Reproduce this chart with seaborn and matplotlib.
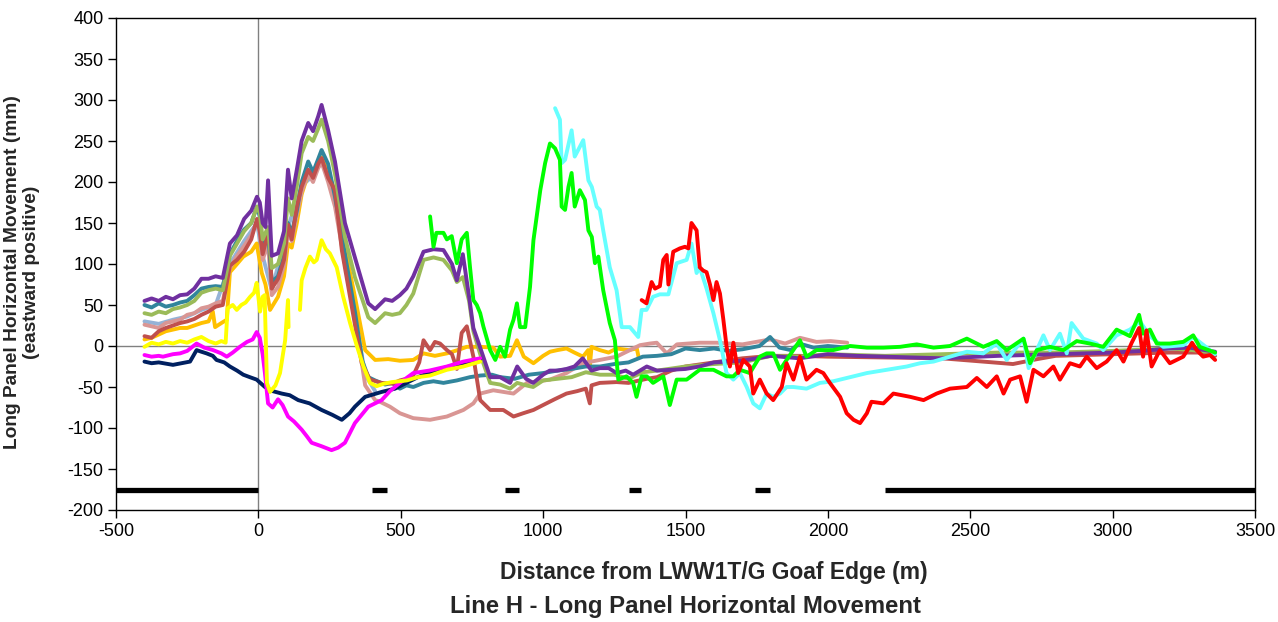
import matplotlib
matplotlib.use("Agg")
import matplotlib.pyplot as plt
import numpy as np
import pandas as pd
import seaborn as sns

# ---------------- data (distance m, movement mm) ----------------
light_blue_pts = [(-400, 30), (-350, 27), (-300, 32), (-250, 36), (-200, 44), (-150, 50), (-100, 100),
                  (-50, 128), (-5, 150), (15, 110), (47, 68), (104, 145), (152, 195), (192, 208),
                  (222, 226), (269, 180), (304, 108), (339, 38), (375, -35), (410, -55)]

orange_pts = [(-400, 8), (-375, 10), (-350, 14), (-325, 18), (-300, 20), (-275, 22), (-250, 22), (-225, 25),
              (-200, 28), (-175, 30), (-160, 42), (-152, 23), (-130, 28), (-111, 32), (-100, 90), (-75, 100),
              (-53, 109), (-25, 115), (-6, 125), (12, 89), (25, 75), (41, 44), (69, 60), (90, 85), (104, 125),
              (117, 120), (135, 150), (152, 185), (175, 210), (192, 205), (210, 220), (222, 230), (245, 212),
              (269, 188), (304, 120), (339, 60), (375, -5), (410, -17), (456, -16), (497, -18), (544, -17),
              (580, -9), (620, -12), (662, -9), (700, -5), (732, -1), (779, -1), (825, -2), (849, -13),
              (884, -12), (908, 7), (932, -13), (966, -21), (1000, -12), (1024, -7), (1050, -5), (1082, -3),
              (1110, -8), (1140, -13), (1158, -5), (1164, -25), (1170, -1), (1199, -5), (1230, -8),
              (1258, -3), (1300, -5), (1329, -3), (1335, -13)]

pink_pts = [(-400, 26), (-375, 24), (-350, 22), (-325, 28), (-300, 30), (-275, 32), (-250, 38), (-225, 40),
            (-200, 46), (-175, 48), (-150, 52), (-125, 55), (-100, 95), (-75, 110), (-50, 122), (-25, 135),
            (-5, 152), (5, 138), (15, 105), (34, 125), (47, 62), (69, 72), (90, 98), (104, 140), (117, 128),
            (135, 160), (152, 188), (175, 210), (192, 200), (210, 217), (222, 224), (245, 200), (269, 170),
            (304, 100), (339, 35), (375, -48), (410, -66), (427, -68), (462, -74), (497, -82), (544, -88),
            (603, -90), (662, -86), (720, -78), (755, -70), (779, -58), (825, -54), (896, -58), (943, -45),
            (1024, -41), (1082, -33), (1139, -21), (1199, -17), (1258, -13), (1340, 1), (1375, 3), (1399, 4),
            (1434, -9), (1470, 2), (1550, 4), (1610, 4), (1700, 2), (1797, 8), (1850, 3), (1902, 10),
            (1960, 5), (2010, 6), (2068, 4)]

teal_pts = [(-400, 50), (-375, 47), (-350, 52), (-325, 48), (-300, 50), (-275, 53), (-250, 55), (-225, 62),
            (-200, 70), (-175, 72), (-150, 73), (-125, 72), (-100, 112), (-75, 128), (-50, 142), (-25, 150),
            (-5, 170), (5, 158), (15, 118), (34, 140), (47, 78), (69, 85), (90, 110), (104, 150), (117, 138),
            (135, 165), (152, 200), (175, 225), (192, 212), (210, 228), (222, 239), (245, 222), (269, 182),
            (304, 112), (339, 42), (365, -18), (386, -38), (410, -42), (445, -47), (470, -45), (497, -52),
            (520, -48), (544, -50), (580, -45), (615, -43), (650, -45), (697, -42), (743, -38), (780, -36),
            (820, -35), (850, -38), (900, -40), (950, -35), (1000, -33), (1050, -30), (1100, -28),
            (1150, -25), (1200, -25), (1250, -22), (1300, -20), (1350, -13), (1400, -12), (1450, -10),
            (1500, -3), (1550, -5), (1600, -3), (1650, -6), (1700, -4), (1760, 0), (1797, 11), (1830, -2),
            (1870, -5), (1900, 3), (1950, -2), (2000, 0), (2068, -2)]

brown_pts = [(-400, 12), (-375, 10), (-350, 18), (-325, 22), (-300, 25), (-275, 28), (-250, 30), (-225, 33),
             (-200, 38), (-175, 42), (-150, 48), (-125, 50), (-100, 98), (-75, 105), (-50, 115), (-25, 130),
             (-5, 155), (5, 140), (15, 112), (34, 138), (41, 120), (47, 70), (69, 82), (90, 105), (104, 148),
             (117, 130), (135, 170), (152, 194), (175, 215), (192, 205), (210, 222), (222, 229), (245, 205),
             (269, 190), (293, 117), (328, 48), (363, -21), (392, -41), (433, -45), (470, -46), (497, -42),
             (520, -40), (544, -36), (565, -20), (580, 7), (603, -5), (620, 5), (638, 3), (662, -5),
             (680, -10), (697, -28), (714, 16), (732, 24), (755, -13), (779, -66), (814, -78), (860, -78),
             (896, -86), (930, -82), (966, -78), (1000, -72), (1040, -65), (1082, -58), (1120, -55),
             (1150, -52), (1164, -70), (1170, -48), (1199, -45), (1258, -44), (1300, -45), (1364, -40),
             (1400, -38), (1450, -30), (1500, -25), (1600, -20), (1700, -15), (1800, -12), (1900, -12),
             (2000, -13), (2200, -14), (2400, -15), (2580, -20), (2650, -22), (2735, -16), (2800, -12),
             (3000, -10), (3200, -8), (3300, -8), (3360, -12)]

olive_pts = [(-400, 40), (-375, 38), (-350, 42), (-325, 40), (-300, 45), (-275, 47), (-250, 50), (-225, 55),
             (-200, 65), (-175, 68), (-150, 70), (-125, 68), (-100, 110), (-75, 125), (-50, 140), (-25, 150),
             (-5, 170), (5, 162), (15, 130), (34, 145), (47, 95), (69, 100), (90, 125), (104, 180), (117, 160),
             (135, 195), (152, 235), (175, 255), (192, 250), (210, 265), (222, 276), (245, 250), (269, 210),
             (304, 133), (339, 84), (386, 35), (410, 28), (445, 40), (470, 38), (497, 40), (520, 50),
             (544, 64), (580, 105), (615, 108), (650, 105), (680, 92), (697, 78), (718, 84), (740, 55),
             (755, 18), (779, -10), (814, -45), (849, -47), (884, -52), (909, -45), (940, -48), (965, -50),
             (1000, -42), (1050, -40), (1100, -38), (1150, -32), (1200, -35), (1250, -35), (1300, -40),
             (1350, -32), (1400, -30), (1500, -25), (1600, -22), (1700, -20), (1800, -12), (1900, -13),
             (2000, -10), (2200, -12), (2400, -10), (2600, -8), (2800, -8), (3000, -6), (3200, -3),
             (3280, -5), (3360, -8)]

purple_pts = [(-400, 55), (-375, 58), (-350, 55), (-325, 60), (-300, 57), (-275, 62), (-250, 63), (-225, 70),
              (-200, 82), (-175, 82), (-150, 85), (-125, 83), (-100, 125), (-75, 135), (-50, 155), (-25, 165),
              (-5, 182), (5, 175), (15, 150), (25, 145), (34, 202), (47, 110), (69, 113), (90, 140),
              (104, 215), (117, 180), (135, 215), (152, 250), (175, 272), (192, 262), (210, 280), (222, 294),
              (245, 263), (269, 225), (304, 150), (339, 108), (386, 52), (410, 45), (445, 57), (470, 55),
              (497, 62), (520, 70), (544, 85), (580, 115), (615, 118), (650, 117), (680, 100), (697, 80),
              (718, 112), (740, 60), (755, 22), (779, -2), (814, -38), (849, -38), (884, -45), (909, -25),
              (940, -40), (965, -45), (1000, -35), (1023, -30), (1050, -30), (1082, -28), (1110, -25),
              (1139, -15), (1170, -30), (1199, -27), (1230, -27), (1258, -33), (1290, -30), (1316, -35),
              (1364, -25), (1400, -30), (1500, -28), (1550, -25), (1600, -20), (1700, -18), (1800, -12),
              (1900, -15), (2000, -10), (2100, -12), (2200, -13), (2400, -15), (2600, -12), (2800, -10),
              (3000, -8), (3100, -6), (3200, -3), (3270, -2), (3360, -7)]

navy_pts = [(-400, -19), (-375, -21), (-350, -20), (-300, -23), (-270, -21), (-240, -19), (-217, -5),
            (-200, -7), (-182, -9), (-160, -12), (-147, -17), (-120, -20), (-100, -25), (-75, -30), (-53, -35),
            (-30, -38), (-6, -41), (23, -50), (50, -55), (82, -58), (110, -60), (140, -66), (180, -70),
            (222, -78), (260, -84), (293, -90), (320, -82), (339, -74), (375, -62), (433, -56), (480, -52),
            (520, -45), (560, -38), (620, -30), (680, -24), (740, -20), (779, -16)]

magenta_pts = [(-400, -11), (-375, -13), (-350, -12), (-335, -13), (-300, -10), (-275, -9), (-250, -6),
               (-217, 3), (-190, -2), (-159, -5), (-130, -9), (-111, -13), (-90, -8), (-65, -1), (-40, 5),
               (-20, 8), (-6, 17), (5, 10), (15, -10), (23, -33), (34, -70), (50, -75), (69, -65), (85, -72),
               (104, -86), (125, -92), (152, -102), (170, -110), (187, -118), (220, -122), (257, -127),
               (280, -124), (304, -118), (339, -94), (386, -74), (433, -66), (462, -55), (497, -45),
               (544, -33), (600, -30), (662, -25), (720, -19), (779, -15)]

yellow_a_pts = [(-400, -1), (-375, 4), (-350, 2), (-325, 5), (-300, 3), (-275, 6), (-250, 4), (-225, 8),
                (-200, 11), (-175, 6), (-150, 3), (-130, 6), (-115, 4), (-108, 46), (-90, 50), (-76, 44),
                (-60, 50), (-45, 53), (-29, 60), (-15, 65), (-6, 77), (6, 42), (15, 60), (22, 62), (30, -45),
                (41, -56), (60, -48), (76, -33), (94, 7), (104, 56), (106, 23)]

yellow_b_pts = [(146, 44), (152, 80), (165, 95), (181, 109), (195, 102), (205, 105), (222, 129), (237, 118),
                (251, 113), (275, 96), (298, 60), (322, 28), (346, 0), (369, -25), (392, -45), (415, -49),
                (440, -46), (470, -44), (521, -42), (560, -38), (603, -36), (662, -29), (720, -25), (779, -19)]

cyan_pts = [(1042, 290), (1059, 276), (1065, 223), (1077, 227), (1100, 263), (1111, 231), (1141, 251),
            (1159, 202), (1171, 194), (1188, 170), (1199, 166), (1211, 141), (1234, 96), (1258, 68),
            (1276, 23), (1305, 23), (1334, 11), (1346, 44), (1363, 44), (1386, 60), (1410, 63), (1440, 63),
            (1445, 70), (1469, 101), (1504, 105), (1521, 125), (1539, 89), (1550, 96), (1574, 70),
            (1598, 40), (1621, 7), (1644, -33), (1668, -41), (1691, -33), (1715, -50), (1738, -70),
            (1761, -76), (1785, -58), (1808, -62), (1832, -58), (1855, -50), (1879, -50), (1925, -52),
            (1972, -45), (2019, -43), (2090, -37), (2137, -33), (2207, -29), (2277, -25), (2324, -21),
            (2371, -19), (2429, -13), (2488, -7), (2546, -9), (2593, 3), (2628, -17), (2687, 9), (2705, -27),
            (2757, 13), (2780, -5), (2815, 15), (2839, -9), (2856, 28), (2897, 9), (2944, 3), (2967, -5),
            (3014, 13), (3061, 20), (3096, 30), (3131, 12), (3178, -1), (3248, 1), (3283, 11), (3360, -10)]

green_pts = [(603, 158), (615, 121), (625, 138), (650, 138), (662, 130), (679, 134), (697, 101), (714, 130),
             (732, 138), (743, 97), (755, 56), (767, 50), (779, 40), (790, 24), (814, -5), (832, -17),
             (849, -1), (866, -13), (884, 20), (896, 32), (908, 52), (919, 23), (937, 23), (954, 72),
             (966, 129), (990, 190), (1007, 223), (1024, 247), (1042, 241), (1059, 227), (1065, 170),
             (1077, 166), (1089, 194), (1100, 211), (1111, 170), (1129, 190), (1147, 178), (1159, 141),
             (1171, 133), (1182, 101), (1194, 109), (1211, 68), (1234, 28), (1252, 7), (1264, -41),
             (1293, -37), (1316, -45), (1328, -62), (1346, -37), (1364, -37), (1386, -45), (1422, -37),
             (1445, -72), (1469, -41), (1504, -41), (1550, -29), (1598, -29), (1621, -33), (1644, -37),
             (1668, -37), (1691, -29), (1726, -33), (1761, -13), (1785, -9), (1808, -9), (1832, -29),
             (1855, -17), (1902, 7), (1925, -13), (1960, -5), (2019, -5), (2078, 0), (2137, -2), (2195, -2),
             (2254, -1), (2312, 2), (2371, -2), (2429, 0), (2488, 9), (2546, -1), (2593, 6), (2628, -5),
             (2687, 9), (2710, -21), (2734, -5), (2780, -1), (2827, -5), (2874, 6), (2920, 3), (2967, -1),
             (3014, 20), (3061, 12), (3093, 38), (3107, 15), (3131, 20), (3155, 3), (3201, 3), (3248, 5),
             (3283, 13), (3306, -1), (3360, -8)]

red_pts = [(1346, 56), (1363, 52), (1381, 78), (1393, 70), (1410, 73), (1422, 105), (1434, 111), (1440, 75),
           (1457, 115), (1480, 119), (1498, 121), (1510, 119), (1521, 150), (1539, 141), (1550, 96),
           (1562, 92), (1574, 90), (1586, 75), (1598, 56), (1609, 78), (1621, 64), (1633, 32), (1644, 0),
           (1656, -25), (1668, 4), (1685, -33), (1703, -17), (1726, -25), (1738, -58), (1761, -41),
           (1785, -58), (1808, -66), (1838, -50), (1855, -21), (1879, -41), (1902, -13), (1925, -41),
           (1960, -29), (1984, -33), (2007, -45), (2043, -62), (2066, -82), (2090, -90), (2113, -94),
           (2137, -82), (2153, -68), (2195, -70), (2230, -58), (2289, -62), (2336, -66), (2382, -58),
           (2429, -52), (2488, -50), (2523, -39), (2558, -50), (2593, -37), (2617, -58), (2640, -41),
           (2675, -37), (2698, -68), (2722, -29), (2757, -37), (2792, -25), (2815, -41), (2850, -21),
           (2885, -25), (2909, -13), (2944, -27), (2979, -19), (3014, -5), (3038, -19), (3067, 4),
           (3093, 22), (3107, -13), (3119, 19), (3137, -25), (3166, -5), (3201, -21), (3248, -13),
           (3279, 4), (3295, -5), (3318, -13), (3342, -11), (3360, -17)]

# extents of the black bars drawn at y = -175
bar_starts = [-500, 400, 865, 1300, 1745, 2200]
bar_ends = [0, 450, 915, 1345, 1795, 3500]
bar_level = -175

x_ticks = [-500, 0, 500, 1000, 1500, 2000, 2500, 3000, 3500]
y_ticks = [-200, -150, -100, -50, 0, 50, 100, 150, 200, 250, 300, 350, 400]

series = [
    ("lightblue", "#95B3D7", light_blue_pts),
    ("orange", "#FFC000", orange_pts),
    ("pink", "#D99694", pink_pts),
    ("teal", "#31859C", teal_pts),
    ("brown", "#C0504D", brown_pts),
    ("olive", "#9BBB59", olive_pts),
    ("purple", "#7030A0", purple_pts),
    ("navy", "#002060", navy_pts),
    ("magenta", "#FF00FF", magenta_pts),
    ("yellow_a", "#FFFF00", yellow_a_pts),
    ("yellow_b", "#FFFF00", yellow_b_pts),
    ("cyan", "#66FFFF", cyan_pts),
    ("green", "#00FF00", green_pts),
    ("red", "#FF0000", red_pts),
]

# ---------------- plot ----------------
sns.set_style("white")
plt.rcParams["font.family"] = ["Liberation Sans", "DejaVu Sans"]
plt.rcParams["axes.unicode_minus"] = False

fig = plt.figure(figsize=(12.78, 6.22), dpi=100)
ax = fig.add_axes([116 / 1278, 1 - 510 / 622, (1255 - 116) / 1278, (510 - 18) / 622])

ax.axhline(0, color="#808080", lw=1.0, zorder=1)
ax.axvline(0, color="#808080", lw=1.0, zorder=1)

for i, (name, color, pts) in enumerate(series):
    df = pd.DataFrame(pts, columns=["x", "y"])
    sns.lineplot(data=df, x="x", y="y", color=color, lw=2.8, estimator=None, sort=False,
                 ax=ax, legend=False, zorder=2 + i * 0.01)

ax.hlines([bar_level] * len(bar_starts), bar_starts, bar_ends, colors="black", lw=3.8, zorder=5)

ax.set_xlim(-500, 3500)
ax.set_ylim(-200, 400)
ax.set_xticks(x_ticks)
ax.set_yticks(y_ticks)
ax.set_xlabel("")
ax.set_ylabel("")
for sp in ax.spines.values():
    sp.set_visible(True)
    sp.set_color("black")
    sp.set_linewidth(1.0)
ax.tick_params(axis="both", which="major", direction="out", length=6, width=1.0,
               colors="black", labelsize=13, left=True, bottom=True, pad=3)

fig.text(22 / 1278, 1 - 272 / 622, "Long Panel Horizontal Movement (mm)\n(eastward positive)",
         rotation=90, ha="center", va="center", multialignment="center",
         fontsize=13.8, fontweight="bold", linespacing=1.1)
fig.text(714 / 1278, 1 - 573 / 622, "Distance from LWW1T/G Goaf Edge (m)",
         ha="center", va="center", fontsize=16.5, fontweight="bold")
fig.text(685 / 1278, 1 - 607 / 622, "Line H - Long Panel Horizontal Movement",
         ha="center", va="center", fontsize=17.2, fontweight="bold")

fig.savefig("out.png", dpi=100)
